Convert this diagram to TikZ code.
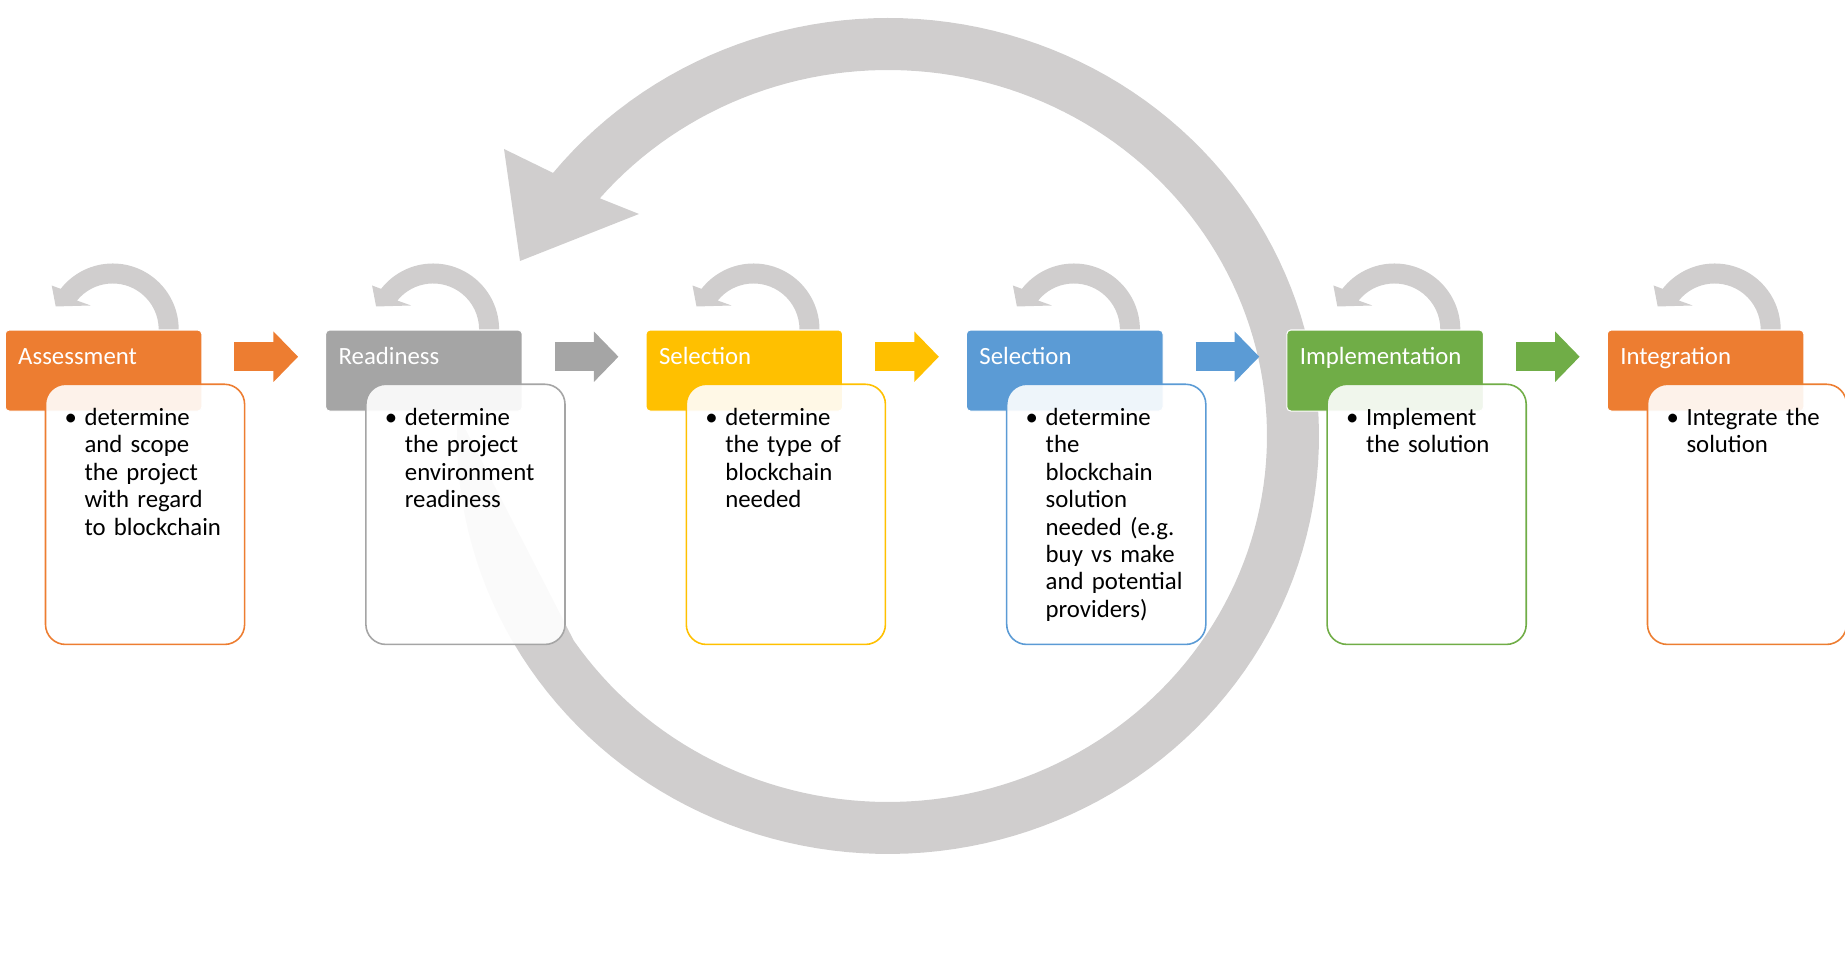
\documentclass[tikz,border=0pt]{standalone}
\usepackage{fontspec}
\setmainfont{Carlito}
\usetikzlibrary{arrows.meta}
\definecolor{orng}{HTML}{ED7D31}
\definecolor{gry}{HTML}{A5A5A5}
\definecolor{gld}{HTML}{FFC000}
\definecolor{blu}{HTML}{5B9BD5}
\definecolor{grn}{HTML}{70AD47}
\definecolor{ring}{HTML}{D0CECE}
\begin{document}
\begin{tikzpicture}[x=0.01cm,y=0.01cm,font=\fontsize{7.05}{7.8}\selectfont,
	stagehead/.style={fill=#1,draw=white,line width=0.3pt,rounded corners=0.04cm,anchor=north west,
		text=white,align=left,text width=1.705cm,inner xsep=0.13cm,inner ysep=0pt,
		text height=0.34cm,text depth=0.47cm},
	stagebody/.style={draw=#1,line width=0.45pt,fill=white,fill opacity=0.9,text opacity=1,
		rounded corners=0.2cm,anchor=north west,align=left,text width=1.99cm,
		inner xsep=0pt,inner ysep=0pt,text height=0.41cm,text depth=2.19cm},
	flow/.style={draw=#1,line width=0.29cm,-{Triangle[length=0.246cm 0,width=0.49cm 0]},
		shorten <=0.32cm,shorten >=0.27cm},
	loopback/.pic={\fill[ring] (66,0) arc[start angle=0,end angle=142,radius=66] -- (-61,44)
		-- (-57,23) -- (-22,24) -- (141:46) arc[start angle=141,end angle=0,radius=46] -- cycle;}]
	\useasboundingbox (0,0) rectangle (1845,970);
	\fill[ring] plot[domain=-141:183,samples=160] ({888+431*cos(\x)},{534-418*sin(\x)})
		-- plot[domain=-146:139.5,samples=160] ({888+379*cos(\x)},{534+366*sin(\x)})
		-- (639,756) -- (520,709) -- (504,821) -- cycle;
	\node[stagehead=orng] (h1) at (4.7,640.5) {Assessment};
	\node[stagehead=gry] (h2) at (325.1,640.5) {Readiness};
	\node[stagehead=gld] (h3) at (645.5,640.5) {Selection};
	\node[stagehead=blu] (h4) at (965.9,640.5) {Selection};
	\node[stagehead=grn] (h5) at (1286.3,640.5) {Implementation};
	\node[stagehead=orng] (h6) at (1606.7,640.5) {Integration};
	\pic at (h1.north west) [shift={(108,0)}] {loopback};
	\pic at (h2.north west) [shift={(108,0)}] {loopback};
	\pic at (h3.north west) [shift={(108,0)}] {loopback};
	\pic at (h4.north west) [shift={(108,0)}] {loopback};
	\pic at (h5.north west) [shift={(108,0)}] {loopback};
	\pic at (h6.north west) [shift={(108,0)}] {loopback};
	\node[stagebody=orng] (b1) at ([shift={(40,-54)}]h1.north west) {\leftskip=0.39cm\leavevmode
		\llap{\makebox[0.2cm][l]{\textbullet}}determine\\and scope\\the project\\with regard\\to blockchain\par};
	\node[stagebody=gry] (b2) at ([shift={(40,-54)}]h2.north west) {\leftskip=0.39cm\leavevmode
		\llap{\makebox[0.2cm][l]{\textbullet}}determine\\the project\\environment\\readiness\par};
	\node[stagebody=gld] (b3) at ([shift={(40,-54)}]h3.north west) {\leftskip=0.39cm\leavevmode
		\llap{\makebox[0.2cm][l]{\textbullet}}determine\\the type of\\blockchain\\needed\par};
	\node[stagebody=blu] (b4) at ([shift={(40,-54)}]h4.north west) {\leftskip=0.39cm\leavevmode
		\llap{\makebox[0.2cm][l]{\textbullet}}determine\\the\\blockchain\\solution\\needed (e.g.\\buy vs make\\and potential\\providers)\par};
	\node[stagebody=grn] (b5) at ([shift={(40,-54)}]h5.north west) {\leftskip=0.39cm\leavevmode
		\llap{\makebox[0.2cm][l]{\textbullet}}Implement\\the solution\par};
	\node[stagebody=orng] (b6) at ([shift={(40,-54)}]h6.north west) {\leftskip=0.39cm\leavevmode
		\llap{\makebox[0.2cm][l]{\textbullet}}Integrate the\\solution\par};
	\draw[flow=orng] ([yshift=0.138cm]h1.east) -- ([yshift=0.138cm]h2.west);
	\draw[flow=gry] ([yshift=0.138cm]h2.east) -- ([yshift=0.138cm]h3.west);
	\draw[flow=gld] ([yshift=0.138cm]h3.east) -- ([yshift=0.138cm]h4.west);
	\draw[flow=blu] ([yshift=0.138cm]h4.east) -- ([yshift=0.138cm]h5.west);
	\draw[flow=grn] ([yshift=0.138cm]h5.east) -- ([yshift=0.138cm]h6.west);
\end{tikzpicture}
\end{document}
